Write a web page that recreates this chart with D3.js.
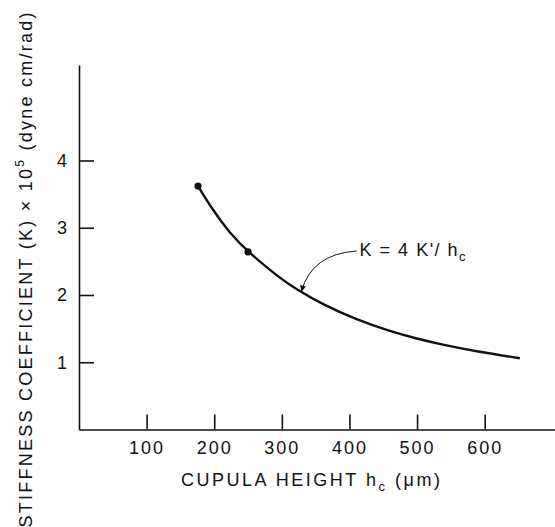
<!DOCTYPE html>
<html>
<head>
<meta charset="utf-8">
<script src="https://cdn.jsdelivr.net/npm/d3@7"></script>
<style>
  body { margin: 0; background: #fff; }
  svg { display: block; }
  text { font-family: "Liberation Sans", Arial, sans-serif; fill: #111; }
  .axis path, .axis line { stroke: #111; stroke-width: 1.6; }
  .axis text { font-size: 18px; letter-spacing: 2px; }
</style>
</head>
<body>
<svg id="chart" width="555" height="527"></svg>
<script>
// cupula height (um) and stiffness K x 10^5
var heights = [176, 198, 223, 250, 297, 321, 360, 411, 460, 500, 538, 588, 652];
var stiffness = [3.62, 3.26, 2.92, 2.64, 2.25, 2.09, 1.86, 1.63, 1.46, 1.35, 1.26, 1.16, 1.06];
// the two measured points
var dotHeights = [176, 250];
var dotStiffness = [3.62, 2.64];
var xTicks = [100, 200, 300, 400, 500, 600];
var yTicks = [1, 2, 3, 4];

var svg = d3.select("#chart");

var x = d3.scaleLinear().domain([0, 704]).range([79, 555]),
    y = d3.scaleLinear().domain([0, 5.42]).range([429.5, 65]);

// axes, ticks point inward
svg.append("g")
    .attr("class", "axis")
    .attr("transform", "translate(0," + y(0) + ")")
    .call(d3.axisBottom(x).tickValues(xTicks).tickSize(-15).tickSizeOuter(0).tickPadding(12));

svg.append("g")
    .attr("class", "axis")
    .attr("transform", "translate(" + x(0) + ",0)")
    .call(d3.axisLeft(y).tickValues(yTicks).tickFormat(d3.format("d"))
        .tickSize(-15).tickSizeOuter(0).tickPadding(10));

svg.selectAll(".axis .domain").attr("fill", "none");

var pts = heights.map(function(h, i) { return [h, stiffness[i]]; });

var line = d3.line()
    .x(function(d) { return x(d[0]); })
    .y(function(d) { return y(d[1]); })
    .curve(d3.curveBasis);

svg.append("path")
    .datum(pts)
    .attr("d", line)
    .attr("fill", "none")
    .attr("stroke", "#111")
    .attr("stroke-width", 2.4);

svg.selectAll(".dot")
    .data(dotHeights)
    .enter().append("circle")
    .attr("class", "dot")
    .attr("cx", function(d) { return x(d); })
    .attr("cy", function(d, i) { return y(dotStiffness[i]); })
    .attr("r", 3.6)
    .attr("fill", "#111");

// annotation K = 4K'/hc with curved arrow
var labelX = x(415), labelY = y(2.58);
var ann = svg.append("text")
    .attr("x", labelX)
    .attr("y", labelY)
    .attr("font-size", 18)
    .attr("letter-spacing", "1.5px");
ann.append("tspan").text("K = 4 K'/ h");
ann.append("tspan").attr("font-size", 13).attr("dy", 5).text("c");

var tipX = x(329), tipY = y(2.05);
svg.append("defs").append("marker")
    .attr("id", "head")
    .attr("viewBox", "0 0 10 10")
    .attr("refX", 10).attr("refY", 5)
    .attr("markerWidth", 9).attr("markerHeight", 6)
    .attr("markerUnits", "userSpaceOnUse")
    .attr("orient", "auto")
    .append("path")
    .attr("d", "M0,0L10,5L0,10z")
    .attr("fill", "#111");

svg.append("path")
    .attr("d", "M" + (labelX - 3) + "," + (labelY - 5) +
               "Q" + (tipX + 10) + "," + (labelY - 2) + " " + tipX + "," + tipY)
    .attr("fill", "none")
    .attr("stroke", "#111")
    .attr("stroke-width", 1)
    .attr("marker-end", "url(#head)");

// axis titles
var xt = svg.append("text")
    .attr("x", 181)
    .attr("y", 486)
    .attr("font-size", 18)
    .attr("textLength", 259)
    .attr("lengthAdjust", "spacing");
xt.append("tspan").text("CUPULA HEIGHT h");
xt.append("tspan").attr("font-size", 13).attr("dy", 5).text("c");
xt.append("tspan").attr("dy", -5).text(" (\u03bcm)");

var yt = svg.append("text")
    .attr("transform", "translate(32,270) rotate(-90)")
    .attr("text-anchor", "middle")
    .attr("font-size", 18)
    .attr("textLength", 515)
    .attr("lengthAdjust", "spacing");
yt.append("tspan").text("STIFFNESS COEFFICIENT (K) \u00d7 10");
yt.append("tspan").attr("font-size", 12).attr("dy", -8).text("5");
yt.append("tspan").attr("dy", 8).text(" (dyne cm/rad)");
</script>
</body>
</html>
